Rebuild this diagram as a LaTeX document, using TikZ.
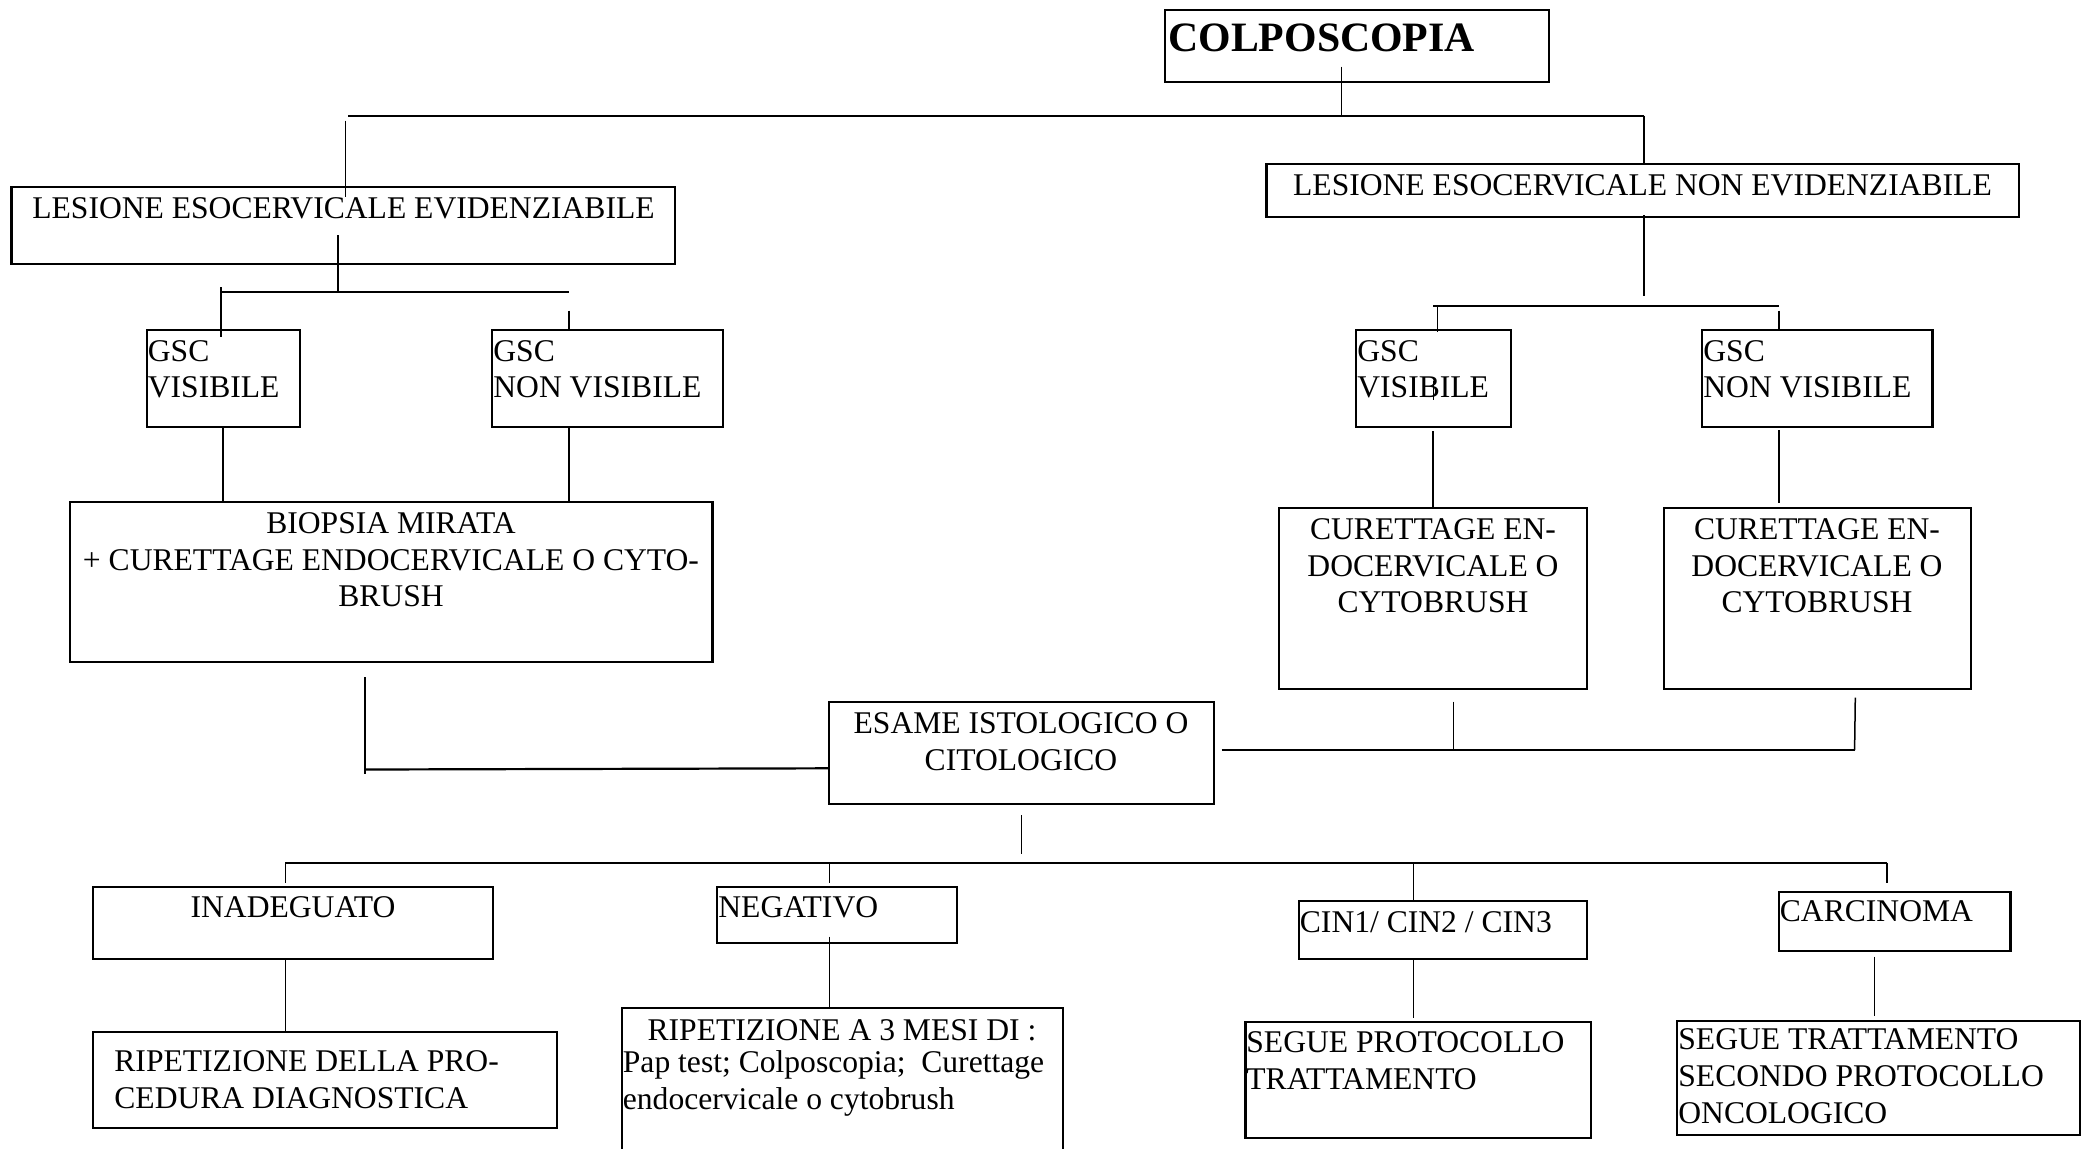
\documentclass[tikz,border=0pt]{standalone}
\usepackage{fontspec}
\setmainfont{Liberation Serif}
\begin{document}
\begin{tikzpicture}[x=0.5pt,y=-0.5pt,
  box/.style={draw, line width=1.1pt, inner sep=0pt},
  lbl/.style={inner sep=0pt, font=\fontsize{15.8}{18.35}\selectfont},
  link/.style={line width=0.75pt},
  bar/.style={line width=1.1pt}]
\useasboundingbox (0,0) rectangle (2085,1148);
\fill[white] (0,0) rectangle (2085,1148);

% ---------- boxes ----------
\node[box, minimum width=192pt,    minimum height=36pt]    (colp) at (1357,46) {};
\node[box, minimum width=331.8pt,  minimum height=38.35pt] (lesE) at (343.2,225.65) {};
\node[box, minimum width=376.25pt, minimum height=26.5pt]  (lesN) at (1642.75,190.8) {};
\node[box, minimum width=76.65pt,  minimum height=48.35pt] (gscVa) at (223.35,378.35) {};
\node[box, minimum width=115.5pt,  minimum height=48.5pt]  (gscNa) at (607.5,378.5) {};
\node[box, minimum width=77.35pt,  minimum height=48.35pt] (gscVb) at (1433.35,378.35) {};
\node[box, minimum width=115.25pt, minimum height=48.35pt] (gscNb) at (1817.25,378.35) {};
\node[box, minimum width=321.25pt, minimum height=80pt]    (biop) at (391.25,582.3) {};
\node[box, minimum width=153.8pt,  minimum height=90.5pt]  (cura) at (1432.8,598.8) {};
\node[box, minimum width=153.45pt, minimum height=90.5pt]  (curb) at (1817.35,598.8) {};
\node[box, minimum width=192.5pt,  minimum height=51.3pt]  (esame) at (1021.5,753) {};
\node[box, minimum width=200pt,    minimum height=36.3pt]  (inad) at (293,923) {};
\node[box, minimum width=119.9pt,  minimum height=28.3pt]  (neg) at (837.1,915) {};
\node[box, minimum width=143.9pt,  minimum height=29.15pt] (cin) at (1442.7,930.15) {};
\node[box, minimum width=115.85pt, minimum height=29.65pt] (carc) at (1894.55,921.35) {};
\node[box, minimum width=232pt,    minimum height=48pt]    (ripd) at (325,1079.7) {};
\node[box, minimum width=220.8pt,  minimum height=72.35pt] (ripm) at (842.5,1080.65) {};
\node[box, minimum width=172.95pt, minimum height=57.7pt]  (segp) at (1418.35,1080) {};
\node[box, minimum width=201.35pt, minimum height=57.15pt] (segt) at (1878.35,1077.85) {};

% ---------- texts (base anchor = baseline of the last line) ----------
\node[lbl, font=\bfseries\fontsize{20.9}{24}\selectfont, anchor=base west] (colp-t) at (1168,51.7) {COLPOSCOPIA};
\node[lbl, anchor=base] (lesE-t) at (343.5,218.3) {LESIONE ESOCERVICALE EVIDENZIABILE};
\node[lbl, anchor=base] (lesN-t) at (1642.5,195) {LESIONE ESOCERVICALE NON EVIDENZIABILE};
\node[lbl, anchor=base west, align=left] (gscVa-t) at (147.5,397.7) {GSC\\VISIBILE};
\node[lbl, anchor=base west, align=left] (gscNa-t) at (493,397.7) {GSC\\NON VISIBILE};
\node[lbl, anchor=base west, align=left] (gscVb-t) at (1357,397.7) {GSC\\VISIBILE};
\node[lbl, anchor=base west, align=left] (gscNb-t) at (1703,397.7) {GSC\\NON VISIBILE};
\node[lbl, anchor=base, align=center] (biop-t) at (391,606.7) {BIOPSIA MIRATA\\+ CURETTAGE ENDOCERVICALE O CYTO-\\BRUSH};
\node[lbl, anchor=base, align=center] (cura-t) at (1433,612.7) {CURETTAGE EN-\\DOCERVICALE O\\CYTOBRUSH};
\node[lbl, anchor=base, align=center] (curb-t) at (1817,612.7) {CURETTAGE EN-\\DOCERVICALE O\\CYTOBRUSH};
\node[lbl, anchor=base, align=center] (esame-t) at (1021,770) {ESAME ISTOLOGICO O\\CITOLOGICO};
\node[lbl, anchor=base] (inad-t) at (293,917.3) {INADEGUATO};
\node[lbl, anchor=base west] (neg-t) at (718,917.3) {NEGATIVO};
\node[lbl, anchor=base west] (cin-t) at (1299.5,932.7) {CIN1/ CIN2 / CIN3};
\node[lbl, anchor=base west] (carc-t) at (1779.5,921.7) {CARCINOMA};
\node[lbl, anchor=base west, align=left] (ripd-t) at (114,1108.3) {RIPETIZIONE DELLA PRO-\\CEDURA DIAGNOSTICA};
\node[lbl, anchor=base] (ripm-h) at (842,1040) {RIPETIZIONE A 3 MESI DI :};
\node[lbl, anchor=base west, align=left] (ripm-t) at (622.5,1109.3) {Pap test; Colposcopia;~ Curettage\\endocervicale o cytobrush};
\node[lbl, anchor=base west, align=left] (segp-t) at (1246,1089) {SEGUE PROTOCOLLO\\TRATTAMENTO};
\node[lbl, anchor=base west, align=left] (segt-t) at (1678,1123.3) {SEGUE TRATTAMENTO\\SECONDO PROTOCOLLO\\ONCOLOGICO};

% ---------- junction points ----------
\coordinate (c1) at (1341.5,66.7);  \coordinate (c2) at (1341.5,115.7);
\coordinate (h1) at (348,115.7);    \coordinate (h2) at (1644,115.7);
\coordinate (h3) at (1644,164.3);
\coordinate (l1) at (345.5,120.7);  \coordinate (l2) at (345.5,196.7);
\coordinate (e1) at (338,235);      \coordinate (e2) at (338,292.3);
\coordinate (e3) at (221,292.3);    \coordinate (e4) at (569,292.3);
\coordinate (e5) at (221,287);      \coordinate (e6) at (221,337);
\coordinate (e7) at (569,310.7);    \coordinate (e8) at (569,331);
\coordinate (v1) at (223,427);      \coordinate (v2) at (223,502.3);
\coordinate (v3) at (569,427);      \coordinate (v4) at (569,502.3);
\coordinate (n1) at (1644,215);     \coordinate (n2) at (1644,296);
\coordinate (n3) at (1433,305.7);   \coordinate (n4) at (1779,305.7);
\coordinate (n5) at (1437.5,305.7); \coordinate (n6) at (1437.5,332.3);
\coordinate (n7) at (1779,310.7);   \coordinate (n8) at (1779,330);
\coordinate (s1) at (1433.3,381);   \coordinate (s2) at (1433.3,400);
\coordinate (w1) at (1433,431);     \coordinate (w2) at (1433,508.3);
\coordinate (w3) at (1779,430);     \coordinate (w4) at (1779,503.3);
\coordinate (b1) at (365,677.3);    \coordinate (b2) at (365,774);
\coordinate (b3) at (365,769.5);    \coordinate (b4) at (829,768.3);
\coordinate (r1) at (1221.6,750);   \coordinate (r2) at (1855.3,750);
\coordinate (r3) at (1453.3,701.7); \coordinate (r4) at (1453.3,750);
\coordinate (r5) at (1855.3,697.7); \coordinate (r6) at (1854.6,750);
\coordinate (x1) at (1021.7,815);   \coordinate (x2) at (1021.7,854);
\coordinate (k1) at (285.3,862.7);  \coordinate (k2) at (1887,862.7);
\coordinate (k3) at (1887,882.7);   \coordinate (k4) at (285.3,883.3);
\coordinate (k5) at (829.7,862.7);  \coordinate (k6) at (829.7,883);
\coordinate (k7) at (1413.7,862.7); \coordinate (k8) at (1413.7,901);
\coordinate (d1) at (285.3,959.3);  \coordinate (d2) at (285.3,1031.7);
\coordinate (d3) at (829.7,936.7);  \coordinate (d4) at (829.7,1008.3);
\coordinate (d5) at (1413.7,959.3); \coordinate (d6) at (1413.7,1018.3);
\coordinate (d7) at (1874.4,956.7); \coordinate (d8) at (1874.4,1015.7);

% ---------- connectors ----------
\draw[link] (c1) -- (c2);
\draw[bar]  (h1) -- (h2);
\draw[link] (h2) -- (h3);
\draw[link] (l1) -- (l2);
\draw[link] (e1) -- (e2);
\draw[bar]  (e3) -- (e4);
\draw[link] (e5) -- (e6);
\draw[link] (e7) -- (e8);
\draw[link] (v1) -- (v2);
\draw[link] (v3) -- (v4);
\draw[link] (n1) -- (n2);
\draw[bar]  (n3) -- (n4);
\draw[link] (n5) -- (n6);
\draw[link] (n7) -- (n8);
\draw[link] (s1) -- (s2);
\draw[link] (w1) -- (w2);
\draw[link] (w3) -- (w4);
\draw[link] (b1) -- (b2);
\draw[bar]  (b3) -- (b4);
\draw[bar]  (r1) -- (r2);
\draw[link] (r3) -- (r4);
\draw[link] (r5) -- (r6);
\draw[link] (x1) -- (x2);
\draw[bar]  (k1) -- (k2);
\draw[link] (k2) -- (k3);
\draw[link] (k1) -- (k4);
\draw[link] (k5) -- (k6);
\draw[link] (k7) -- (k8);
\draw[link] (d1) -- (d2);
\draw[link] (d3) -- (d4);
\draw[link] (d5) -- (d6);
\draw[link] (d7) -- (d8);
\end{tikzpicture}
\end{document}
